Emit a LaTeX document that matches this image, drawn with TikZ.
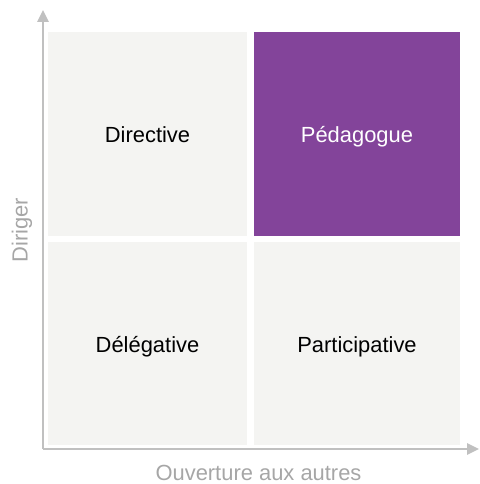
\documentclass[tikz,border=0pt]{standalone}
\usepackage{fontspec}
\setmainfont{Liberation Sans}
\usetikzlibrary{arrows.meta}
\definecolor{quadgray}{HTML}{F4F4F2}
\definecolor{pedapurple}{HTML}{83449A}
\definecolor{axisgray}{HTML}{C0C0C0}
\definecolor{labelgray}{HTML}{A6A6A6}

\begin{document}
\begin{tikzpicture}[x=1bp,y=-1bp,>={Triangle[length=12bp,width=11bp]},
  every node/.style={font=\fontsize{22}{26}\selectfont},
  quad/.style={fill=quadgray,inner sep=0pt,text height=18bp,text depth=0bp}]
\useasboundingbox (0,0) rectangle (480,484);
% quadrants
\node[quad,minimum width=199bp,minimum height=204bp] (dir) at (147.5,134) {Directive};
\node[quad,fill=pedapurple,text=white,minimum width=206bp,minimum height=204bp] (ped) at (357,134) {Pédagogue};
\node[quad,minimum width=199bp,minimum height=203bp] (del) at (147.5,343.5) {Délégative};
\node[quad,minimum width=206bp,minimum height=203bp] (par) at (357,343.5) {Participative};
% axes
\coordinate (o) at (43,449);
\coordinate (ytip) at (43,10);
\coordinate (xtip) at (479,449);
\draw[->,axisgray,line width=2.5bp] (o)--(ytip);
\draw[->,axisgray,line width=2.5bp] (o)--(xtip);
\node[labelgray,rotate=90] (dirlab) at (22,230) {Diriger};
\node[labelgray] (ouvlab) at (258.5,473) {Ouverture aux autres};
\end{tikzpicture}
\end{document}
